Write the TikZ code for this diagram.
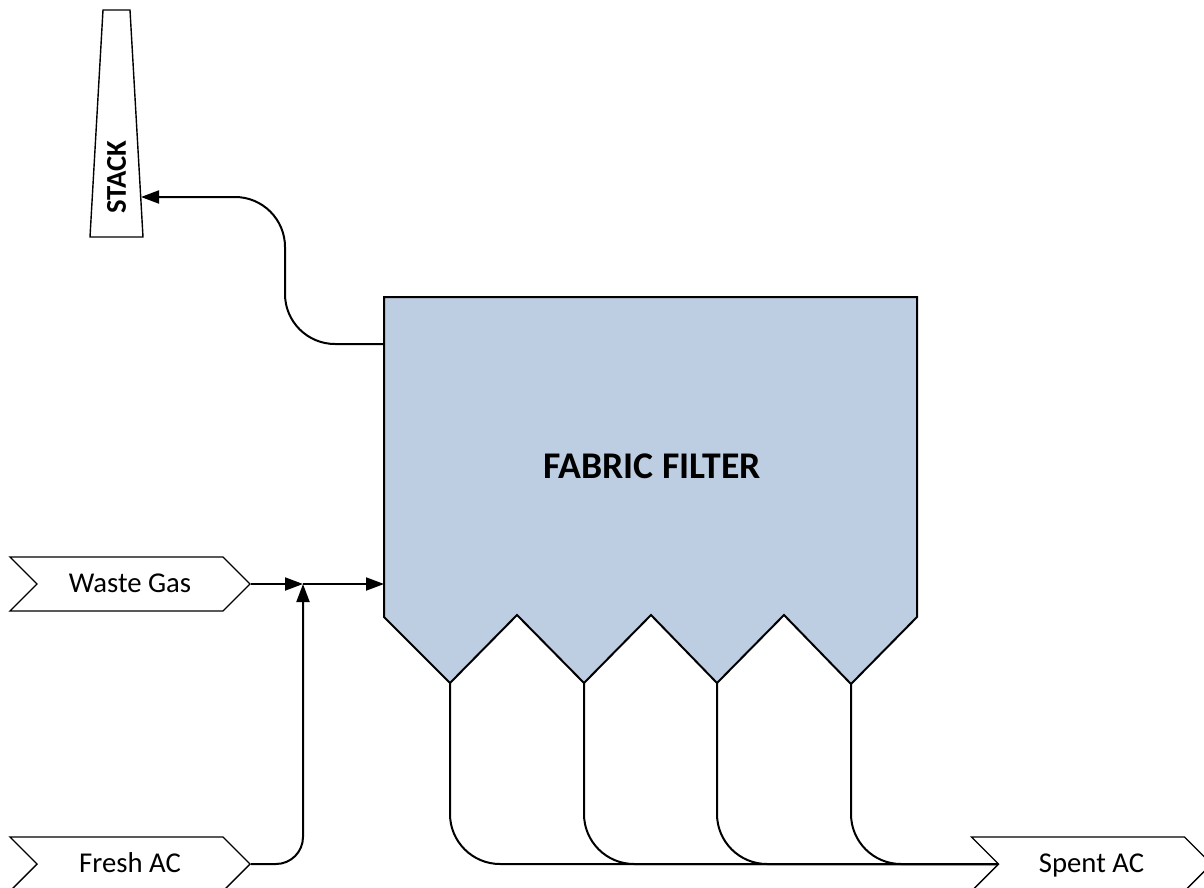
\documentclass[tikz,border=0pt]{standalone}
\usepackage{fontspec}
\usepackage{xcolor}
\usetikzlibrary{shapes.symbols, arrows.meta, positioning}
\setmainfont{Carlito}
\definecolor{Filter_Blue}{HTML}{BDCEE2}

\begin{document}
\begin{tikzpicture}[x=1pt, y=-1pt,
    stream/.style={draw, line width=1.4pt, fill=white, signal, signal to=east, signal from=west,
        signal pointer angle=90, minimum width=240pt, minimum height=54pt, inner sep=0pt,
        text height=19pt, text depth=1.5pt, font=\fontsize{28.7}{34}\selectfont},
    pipe/.style={line width=2pt},
    flow/.style={pipe, -{Triangle[length=18pt, width=13pt]}}]
    \clip (0,0) rectangle (1204,888);

    % Fabric filter body with four hoppers
    \draw[pipe, fill=Filter_Blue, line join=miter] (384,297) -- (917,297) -- (917,617) -- (851,684)
        -- (784,615) -- (717,683) -- (651,615) -- (584,683) -- (517,615) -- (450,683) -- (384,617) -- cycle;
    \node[font=\fontsize{37.7}{44}\selectfont\bfseries] (filter) at (652,466) {FABRIC FILTER};

    % Hopper tips and other ends on the filter
    \coordinate (hopperA) at (450,683);
    \coordinate (hopperB) at (584,683);
    \coordinate (hopperC) at (717,683);
    \coordinate (hopperD) at (851,684);
    \coordinate (filterIn) at (384,584);
    \coordinate (filterOut) at (384,344);

    % Stack
    \draw[line width=1.4pt] (103,10) -- (130,10) -- (143,237) -- (90,237) -- cycle;
    \node[rotate=90, font=\fontsize{28.7}{34}\selectfont\bfseries] (stacklabel) at (116.5,177) {STACK};
    \coordinate (stackIn) at (141,197);
    \coordinate (stackBendA) at (285,344);
    \coordinate (stackBendB) at (285,197);

    % Streams
    \node[stream] (waste) at (130,584) {Waste Gas};
    \node[stream] (fresh) at (130,864) {Fresh AC};
    \node[stream] (spent) at (1091.5,864) {Spent AC};
    \coordinate (junction) at (303,584);

    % Connectors
    \draw[flow] (waste.east) -- (junction);
    \draw[flow] (junction) -- (filterIn);
    \draw[flow, rounded corners=27pt] (fresh.east) -| (junction);
    \draw[flow, rounded corners=50pt] (filterOut) -- (stackBendA) -- (stackBendB) -- (stackIn);

    % Hopper discharge lines
    \foreach \hopper in {hopperA,hopperB,hopperC,hopperD} {
        \draw[pipe, rounded corners=50pt] (\hopper) |- (spent.west);
    }
\end{tikzpicture}
\end{document}
